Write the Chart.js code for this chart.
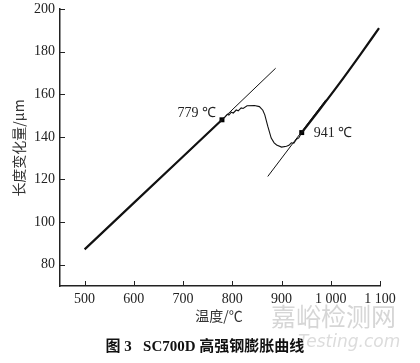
<!DOCTYPE html>
<html>
<head>
<meta charset="utf-8">
<script src="https://cdn.jsdelivr.net/npm/chart.js@4.4.0/dist/chart.umd.min.js"></script>
<style>
  body { margin: 0; background: #fff; }
  #wrap { position: relative; width: 420px; height: 363px; }
  .txt { position: absolute; font-family: "Liberation Serif", "Noto Sans CJK SC", serif; color: #222; white-space: nowrap; }
</style>
</head>
<body>
<div id="wrap">
  <canvas id="c" width="420" height="363"></canvas>
  <div class="txt" style="left:271px; top:297px; font-size:25px; color:#d6d6d6; font-family:'Noto Sans CJK SC';">嘉峪检测网</div>
  <div class="txt" style="left:298px; top:331px; font-size:17px; color:#dcdcdc; font-style:italic; font-family:'DejaVu Sans';">Testing.com</div>
  <div class="txt" style="left:0; width:438px; top:305px; text-align:center; font-size:14px; font-family:'Noto Sans CJK SC'; color:#333;">温度/℃</div>
  <div class="txt" style="left:0; width:410px; top:334px; text-align:center; font-size:15px; font-weight:bold; font-family:'Liberation Serif','Noto Sans CJK SC'; color:#111;">图 3&nbsp;&nbsp;&nbsp;SC700D 高强钢膨胀曲线</div>
  <div class="txt" style="left:-32px; top:138px; width:100px; text-align:center; font-size:14px; font-family:'Noto Sans CJK SC'; color:#333; transform:rotate(-90deg);">长度变化量/μm</div>
</div>
<script>
// 温度 (℃) / 长度变化量 (μm)
const lowTemp = [500, 600, 700, 779];
const lowLen = [87.2, 109, 130.8, 148];

const bumpTemp = [779, 785, 790, 793, 798, 802, 808, 812, 818, 822, 830, 845, 855, 862, 866, 872, 879, 885, 890, 900, 910, 915, 920, 925, 930, 935, 941];
const bumpLen = [148, 149.3, 150.6, 150.2, 151.6, 151.2, 152.6, 152.2, 153.6, 153.3, 154.6, 154.7, 154.2, 152.5, 150.3, 145, 139.4, 137.2, 136.2, 135.2, 135.6, 136, 137.2, 137, 138.8, 139.5, 142];

const highTemp = [941, 977, 1018, 1060, 1098];
const highLen = [142, 152.7, 165.2, 178.6, 191];

// 切线
const tan1Temp = [700, 888];
const tan1Len = [130.6, 172.2];
const tan2Temp = [872, 990];
const tan2Len = [121.4, 157.4];

// 相变点
const markTemp = [779, 941];
const markLen = [148, 142];
const markLabels = ["779 ℃", "941 ℃"];

const xTicks = [500, 600, 700, 800, 900, 1000, 1100];
const xTickLabels = ["500", "600", "700", "800", "900", "1 000", "1 100"];
const yTicks = [80, 100, 120, 140, 160, 180, 200];

const pts = (xs, ys) => xs.map((x, i) => ({ x: x, y: ys[i] }));

function lineSet(xs, ys, w, smooth) {
  return {
    data: pts(xs, ys),
    borderColor: "#111",
    borderWidth: w,
    pointRadius: 0,
    showLine: true,
    cubicInterpolationMode: smooth ? "monotone" : "default",
    tension: 0
  };
}

// petits traits de graduation vers l'intérieur
const innerTicks = {
  id: "innerTicks",
  afterDraw(chart) {
    const ctx = chart.ctx;
    const xs = chart.scales.x, ys = chart.scales.y;
    ctx.save();
    ctx.strokeStyle = "#222";
    ctx.lineWidth = 1;
    ctx.beginPath();
    xTicks.forEach(v => {
      const px = Math.round(xs.getPixelForValue(v)) + 0.5;
      ctx.moveTo(px, ys.bottom);
      ctx.lineTo(px, ys.bottom - 5);
    });
    yTicks.forEach(v => {
      const py = Math.round(ys.getPixelForValue(v)) + 0.5;
      ctx.moveTo(xs.left, py);
      ctx.lineTo(xs.left + 5, py);
    });
    ctx.stroke();

    // étiquettes des points
    ctx.fillStyle = "#222";
    ctx.font = "14px 'Liberation Serif', serif";
    ctx.textBaseline = "middle";
    const p0x = xs.getPixelForValue(markTemp[0]), p0y = ys.getPixelForValue(markLen[0]);
    ctx.textAlign = "right";
    ctx.fillText(markLabels[0], p0x - 6, p0y - 6);
    const p1x = xs.getPixelForValue(markTemp[1]), p1y = ys.getPixelForValue(markLen[1]);
    ctx.textAlign = "left";
    ctx.fillText(markLabels[1], p1x + 12, p1y + 1);
    ctx.restore();
  }
};

new Chart(document.getElementById("c"), {
  type: "scatter",
  data: {
    datasets: [
      lineSet(lowTemp, lowLen, 2.2),
      lineSet(bumpTemp, bumpLen, 1.1),
      lineSet(highTemp, highLen, 2.2, true),
      lineSet(tan1Temp, tan1Len, 1),
      lineSet(tan2Temp, tan2Len, 1),
      {
        data: pts(markTemp, markLen),
        pointStyle: "rect",
        pointRadius: 3.5,
        backgroundColor: "#000",
        borderColor: "#000",
        borderWidth: 0,
        showLine: false
      }
    ]
  },
  options: {
    responsive: false,
    animation: false,
    layout: { padding: { left: 0, top: 9, right: 40, bottom: 0 } },
    plugins: { legend: { display: false }, tooltip: { enabled: false } },
    scales: {
      x: {
        type: "linear",
        min: 450,
        max: 1100,
        afterFit: s => { s.height = 77; s.paddingLeft = 0; s.paddingRight = 0; },
        afterBuildTicks: s => { s.ticks = xTicks.map(v => ({ value: v })); },
        grid: { display: false, drawTicks: false },
        border: { display: true, color: "#222", width: 1.5 },
        ticks: {
          padding: 5,
          color: "#222",
          font: { family: "'Liberation Serif', serif", size: 14 },
          maxRotation: 0,
          autoSkip: false,
          callback: v => xTickLabels[xTicks.indexOf(v)]
        }
      },
      y: {
        min: 70,
        max: 200,
        afterFit: s => { s.width = 60; s.paddingTop = 0; s.paddingBottom = 0; },
        afterBuildTicks: s => { s.ticks = yTicks.map(v => ({ value: v })); },
        grid: { display: false, drawTicks: false },
        border: { display: true, color: "#222", width: 1.5 },
        ticks: {
          padding: 5,
          color: "#222",
          font: { family: "'Liberation Serif', serif", size: 14 }
        }
      }
    }
  },
  plugins: [innerTicks]
});
</script>
</body>
</html>
